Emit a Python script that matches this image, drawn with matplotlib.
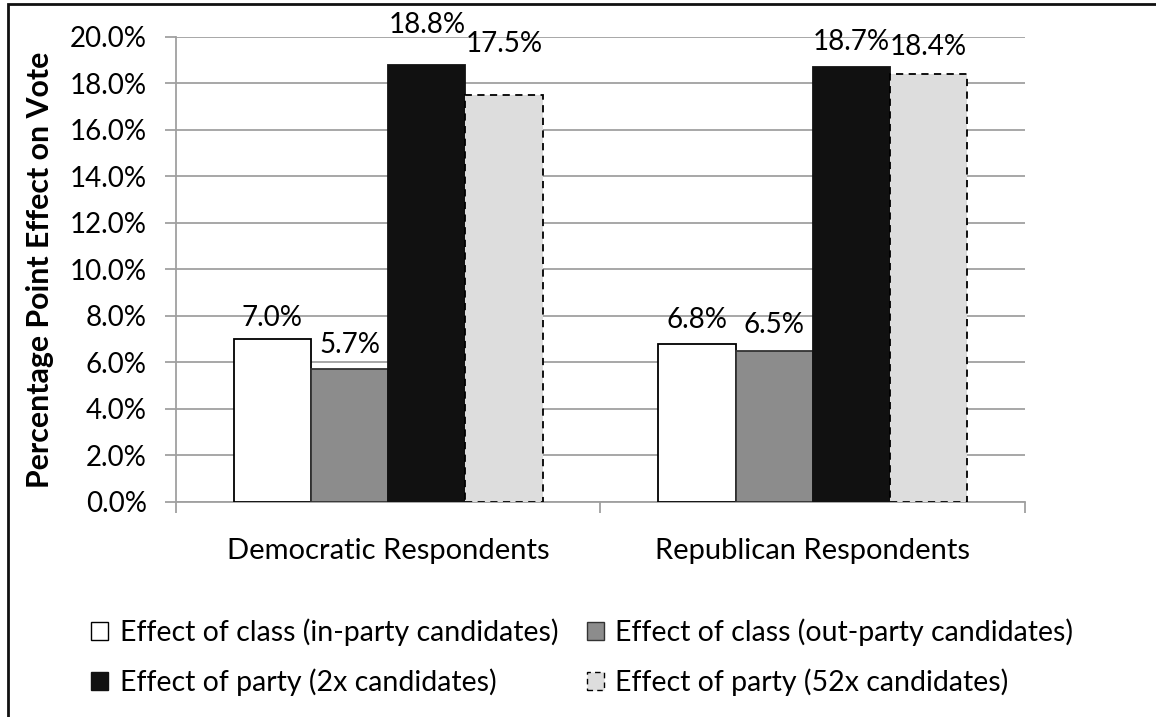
import matplotlib
matplotlib.use("Agg")
import matplotlib.pyplot as plt
from matplotlib.patches import Patch, Rectangle
from matplotlib.ticker import FuncFormatter, MultipleLocator
import numpy as np

plt.rcParams['font.family'] = ['Lato', 'DejaVu Sans']

groups = ["Democratic Respondents", "Republican Respondents"]
series_names = [
    "Effect of class (in-party candidates)",
    "Effect of class (out-party candidates)",
    "Effect of party (2x candidates)",
    "Effect of party (52x candidates)",
]
class_in = [7.0, 6.8]
class_out = [5.7, 6.5]
party_2x = [18.8, 18.7]
party_52x = [17.5, 18.4]
values = [class_in, class_out, party_2x, party_52x]

fills = ["#ffffff", "#8c8c8c", "#111111", "#dddddd"]
edges = ["#000000", "#333333", "#111111", "#000000"]
styles = ["solid", "solid", "solid", (0, (4, 3))]

# vertical distance (pixels) from bar top to the centre of its value label
label_lift = [[21, 24], [24, 26], [40, 25], [51, 27]]

FS = 20

fig = plt.figure(figsize=(11.56, 7.17), dpi=100)
ax = fig.add_axes([0.1522, 0.2999, 0.7345, 0.6485])

x = np.arange(len(groups))
n = len(values)
bw = 1.0 / (n + 1.5)
for i, (vals, fc, ec, ls) in enumerate(zip(values, fills, edges, styles)):
    pos = x + (i - (n - 1) / 2) * bw
    bars = ax.bar(pos, vals, width=bw, facecolor=fc, edgecolor=ec,
                  linewidth=1.3, linestyle=ls, zorder=3)
    for j, (b, v) in enumerate(zip(bars, vals)):
        ax.annotate(f"{v:.1f}%", (b.get_x() + b.get_width() / 2, v),
                    xytext=(0, label_lift[i][j]), textcoords="offset pixels",
                    ha="center", va="center", fontsize=FS, color="#000000",
                    annotation_clip=False, zorder=4)

ax.set_xlim(-0.5, 1.5)
ax.set_ylim(0, 20)
ax.yaxis.set_major_locator(MultipleLocator(2))
ax.yaxis.set_major_formatter(FuncFormatter(lambda v, p: f"{v:.1f}%"))
ax.set_xticks([-0.5, 0.5, 1.5])
ax.set_xticklabels([])
ax.set_xticks(x, minor=True)
ax.set_xticklabels(groups, minor=True)
ax.tick_params(axis="x", which="minor", length=0, pad=26, labelsize=FS + 1)
ax.tick_params(axis="x", which="major", length=8, width=1.3, color="#a0a0a0")
ax.tick_params(axis="y", length=8, width=1.3, color="#a0a0a0", labelsize=FS, pad=13)
ax.grid(axis="y", color="#a0a0a0", linewidth=1.3, zorder=0)
ax.set_axisbelow(True)
for side in ("top", "right"):
    ax.spines[side].set_visible(False)
for side in ("left", "bottom"):
    ax.spines[side].set_color("#a0a0a0")
    ax.spines[side].set_linewidth(1.3)
ax.set_ylabel("Percentage Point Effect on Vote", fontsize=FS + 1.8, fontweight="bold", labelpad=11)

# legend filled row by row: reorder for matplotlib's column-major layout
order = [0, 2, 1, 3]
handles = [Patch(facecolor=fills[k], edgecolor=edges[k], linestyle=styles[k], linewidth=1.0)
           for k in order]
labels = [series_names[k] for k in order]
fig.legend(handles, labels, loc="upper left", bbox_to_anchor=(0.069, 0.154),
           ncol=2, frameon=False, fontsize=FS + 0.5, handlelength=0.6, handleheight=0.6,
           handletextpad=0.4, columnspacing=1.0, labelspacing=0.8, borderaxespad=0)

# outer frame around the chart area
fig.add_artist(Rectangle((8 / 1156, -0.05), 1.2, 0.05 + 713 / 717, transform=fig.transFigure,
                         fill=False, edgecolor="#111111", linewidth=2.0, zorder=-1))

fig.savefig("out.png", dpi=100)
